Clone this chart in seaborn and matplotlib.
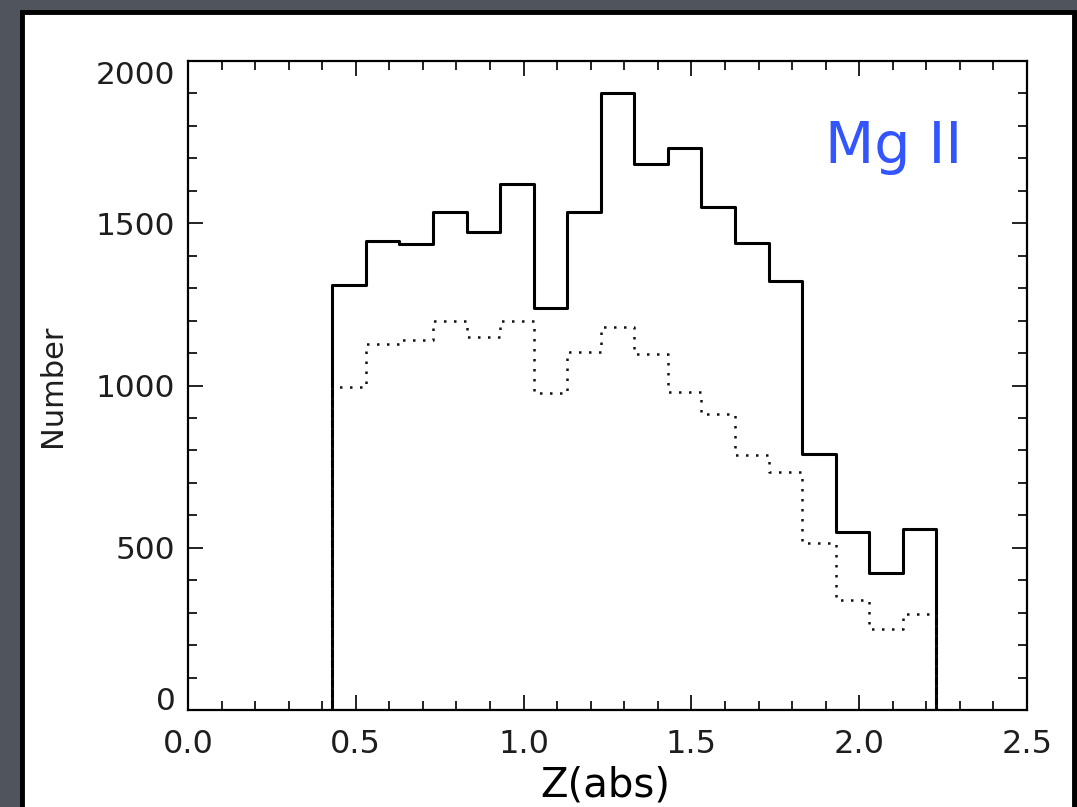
import matplotlib
matplotlib.use("Agg")
import matplotlib.pyplot as plt
import seaborn as sns
import numpy as np
import pandas as pd
from matplotlib.patches import Rectangle
from matplotlib.ticker import MultipleLocator

# Mg II absorber redshift histogram (bin width 0.1)
bin_edges = [0.43, 0.53, 0.63, 0.73, 0.83, 0.93, 1.03, 1.13, 1.23, 1.33,
             1.43, 1.53, 1.63, 1.73, 1.83, 1.93, 2.03, 2.13, 2.23]
counts_all = [1310, 1445, 1435, 1535, 1473, 1620, 1240, 1536, 1900, 1683,
              1731, 1551, 1440, 1321, 790, 550, 422, 558]
counts_sub = [995, 1127, 1139, 1198, 1150, 1198, 977, 1103, 1180, 1096,
              979, 913, 785, 734, 516, 340, 250, 295]

edges = np.array(bin_edges)
df = pd.DataFrame({
    "z": (edges[:-1] + edges[1:]) / 2,
    "all": counts_all,
    "sub": counts_sub,
})

fig = plt.figure(figsize=(10.77, 8.07), dpi=100)
fig.patch.set_facecolor("#50545c")
sns.set_style("white")
plt.rcParams["font.family"] = ["DejaVu Sans"]

# white slide panel with black frame
fig.patches.append(Rectangle((22 / 1077, -0.02), 1052 / 1077, 1.02 - 12 / 807,
                             transform=fig.transFigure, facecolor="white",
                             edgecolor="black", linewidth=3.5, zorder=-5))

ax = fig.add_axes([188 / 1077, 1 - 710 / 807, 839 / 1077, 649 / 807])
ax.set_zorder(2)
ax.set_facecolor("white")

# outlined step histograms (fill polygon with no face so the ends drop to zero)
sns.histplot(data=df, x="z", weights="all", bins=bin_edges, element="step",
             fill=True, color="black", facecolor="none", edgecolor="black",
             alpha=1, linewidth=2.2, ax=ax)
sns.histplot(data=df, x="z", weights="sub", bins=bin_edges, element="step",
             fill=True, color="black", facecolor="none", edgecolor="#111111",
             alpha=1, linewidth=1.8, linestyle=(0, (1, 3)), ax=ax)

ax.set_xlim(0, 2.5)
ax.set_ylim(0, 2000)
ax.xaxis.set_major_locator(MultipleLocator(0.5))
ax.xaxis.set_minor_locator(MultipleLocator(0.1))
ax.yaxis.set_major_locator(MultipleLocator(500))
ax.yaxis.set_minor_locator(MultipleLocator(100))
ax.tick_params(which="both", direction="in", top=True, right=True,
               bottom=True, left=True, width=1.3, color="#111111")
ax.tick_params(which="major", length=11)
ax.tick_params(which="minor", length=6.5)
ax.tick_params(axis="x", labelsize=23, pad=14, labelcolor="#1e1e1e")
ax.tick_params(axis="y", labelsize=22.5, pad=9, labelcolor="#1e1e1e")
ax.set_xticks([0.0, 0.5, 1.0, 1.5, 2.0, 2.5])
ax.set_xticklabels(["0.0", "0.5", "1.0", "1.5", "2.0", "2.5"])
ax.set_yticks([0, 500, 1000, 1500, 2000])
ax.set_yticklabels(["0", "500", "1000", "1500", "2000"])
# keep end labels inside the frame like the original
ylabels = ax.get_yticklabels()
ylabels[0].set_va("baseline")
ylabels[-1].set_va("top")
for s in ax.spines.values():
    s.set_color("black")
    s.set_linewidth(1.6)

ax.set_ylabel("")
ax.set_xlabel("")
fig.text(52 / 1077, 1 - 386 / 807, "Number", fontsize=22, rotation=90,
         ha="center", va="center", color="#1e1e1e")
fig.text(605 / 1077, 1 - 797 / 807, "Z(abs)", fontsize=29, ha="center",
         va="baseline", color="black")
fig.text(894 / 1077, 1 - 163 / 807, "Mg II", fontsize=41, color="#3355ff",
         ha="center", va="baseline")

fig.savefig("out.png", dpi=100, facecolor=fig.get_facecolor())
